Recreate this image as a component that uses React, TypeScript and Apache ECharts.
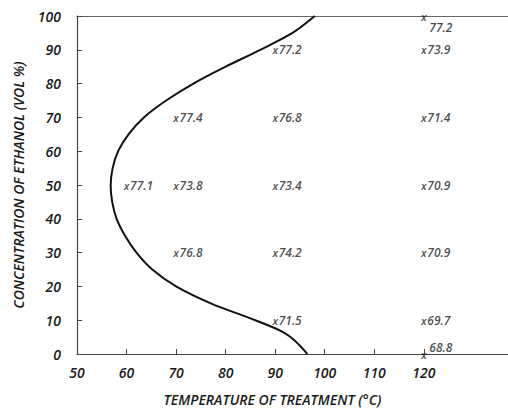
import React, { useEffect, useRef } from "react";
import * as echarts from "echarts";

const curveTemp = [96.5, 94.3, 91.6, 86.0, 77.0, 70.0, 65.2, 62.0, 59.7, 58.0, 57.1, 56.8, 57.2, 58.3, 60.4, 63.5, 68.0, 73.5, 80.0, 87.0, 93.5, 98.0];
const curveConc = [0, 3.5, 6.5, 10, 15, 20, 25, 30, 35, 40, 45, 50, 55, 60, 65, 70, 75, 80, 85, 90, 95, 100];

const pointTemp = [60, 70, 70, 70, 90, 90, 90, 90, 90, 120, 120, 120, 120, 120, 120, 120];
const pointConc = [50, 30, 50, 70, 10, 30, 50, 70, 90, 0, 10, 30, 50, 70, 90, 100];
const pointValue = ["77.1", "76.8", "73.8", "77.4", "71.5", "74.2", "73.4", "76.8", "77.2", "68.8", "69.7", "70.9", "70.9", "71.4", "73.9", "77.2"];

const xTicks = [50, 60, 70, 80, 90, 100, 110, 120];

const FONT = "'Open Sans', 'DejaVu Sans', sans-serif";
const TXT = "#1a1a1a";

function catmullRomPath(pts: number[][]): string {
  if (pts.length < 2) return "";
  let d = `M${pts[0][0]},${pts[0][1]}`;
  for (let i = 0; i < pts.length - 1; i++) {
    const p0 = pts[i - 1] || pts[i];
    const p1 = pts[i];
    const p2 = pts[i + 1];
    const p3 = pts[i + 2] || p2;
    const c1x = p1[0] + (p2[0] - p0[0]) / 6;
    const c1y = p1[1] + (p2[1] - p0[1]) / 6;
    const c2x = p2[0] - (p3[0] - p1[0]) / 6;
    const c2y = p2[1] - (p3[1] - p1[1]) / 6;
    d += ` C${c1x},${c1y} ${c2x},${c2y} ${p2[0]},${p2[1]}`;
  }
  return d;
}

export default function App() {
  const ref = useRef<HTMLDivElement>(null);
  useEffect(() => {
    if (!ref.current) return;
    const chart = echarts.init(ref.current, undefined, { renderer: "svg" });
    const curve = curveTemp.map((t, i) => [t, curveConc[i]]);
    const markers = pointTemp.map((t, i) => ({ value: [t, pointConc[i]] }));
    const values = pointTemp.map((t, i) => {
      const c = pointConc[i];
      let offset = [3, 0];
      if (c === 0) offset = [5, -7];
      if (c === 100) offset = [5, 11];
      return {
        value: [t, c],
        label: { offset },
        name: pointValue[i],
      };
    });
    chart.setOption({
      animation: false,
      backgroundColor: "#fff",
      grid: { left: 77, right: 0, top: 16, bottom: 54 },
      xAxis: [
        {
          type: "value",
          min: 50,
          max: 137,
          interval: 10,
          splitLine: { show: false },
          axisLine: { lineStyle: { color: "#444", width: 1.2 } },
          axisTick: { inside: true, length: 5, customValues: xTicks, lineStyle: { color: "#444" } },
          axisLabel: {
            customValues: xTicks,
            margin: 11,
            fontFamily: FONT,
            fontStyle: "italic",
            fontWeight: 600,
            fontSize: 14,
            color: TXT,
          },
          name: "TEMPERATURE OF TREATMENT (°C)",
          nameLocation: "middle",
          nameGap: 38,
          nameTextStyle: { fontFamily: FONT, fontStyle: "italic", fontWeight: 600, fontSize: 14, color: TXT, padding: [0, 40, 0, 0] },
        },
        {
          type: "value",
          position: "top",
          min: 50,
          max: 137,
          axisLine: { show: true, onZero: false, lineStyle: { color: "#666", width: 1.2 } },
          axisTick: { show: false },
          axisLabel: { show: false },
          splitLine: { show: false },
        },
      ],
      yAxis: {
        type: "value",
        min: 0,
        max: 100,
        interval: 10,
        splitLine: { show: false },
        axisLine: { show: true, lineStyle: { color: "#444", width: 1.2 } },
        axisTick: { show: true, inside: true, length: 5, lineStyle: { color: "#444" } },
        axisLabel: {
          margin: 16,
          fontFamily: FONT,
          fontStyle: "italic",
          fontWeight: 600,
          fontSize: 14,
          color: TXT,
        },
        name: "CONCENTRATION OF ETHANOL (VOL %)",
        nameLocation: "middle",
        nameGap: 52,
        nameTextStyle: { fontFamily: FONT, fontStyle: "italic", fontWeight: 600, fontSize: 14, color: TXT },
      },
      series: [
        {
          type: "custom",
          data: curve,
          encode: { x: 0, y: 1 },
          renderItem: (params: any, api: any) => {
            if (params.dataIndex !== 0) return null;
            const pts = curve.map((p) => api.coord(p));
            return {
              type: "path",
              shape: { pathData: catmullRomPath(pts) },
              style: { fill: "none", stroke: "#111", lineWidth: 2 },
            };
          },
        },
        {
          type: "scatter",
          data: markers,
          symbolSize: 1,
          itemStyle: { color: "rgba(0,0,0,0)" },
          label: {
            show: true,
            position: "inside",
            formatter: "x",
            fontFamily: FONT,
            fontStyle: "italic",
            fontWeight: 600,
            fontSize: 11,
            color: TXT,
          },
        },
        {
          type: "scatter",
          data: values,
          symbolSize: 1,
          itemStyle: { color: "rgba(0,0,0,0)" },
          label: {
            show: true,
            position: "right",
            distance: 0,
            formatter: (p: any) => p.name,
            fontFamily: FONT,
            fontStyle: "italic",
            fontWeight: 600,
            fontSize: 12,
            color: TXT,
          },
        },
      ],
    });
    return () => chart.dispose();
  }, []);
  return <div ref={ref} style={{ width: 508, height: 411, position: "absolute", left: 0, top: 0 }} />;
}
